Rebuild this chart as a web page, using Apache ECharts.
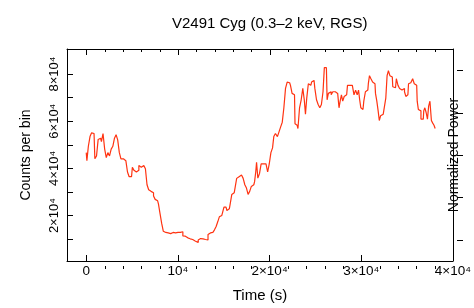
<!DOCTYPE html>
<html>
<head>
<meta charset="utf-8">
<script src="https://cdn.jsdelivr.net/npm/echarts@6.0.0/dist/echarts.min.js"></script>
<style>
  html, body { margin: 0; padding: 0; background: #fff; }
  #chart { width: 474px; height: 308px; }
</style>
</head>
<body>
<div id="chart"></div>
<script>
// light curve, time in s, counts per bin
const timeSec = [
  0, 140, 320, 500, 670, 850, 1030, 1210, 1390, 1570, 1740, 1920, 2100, 2270, 2450, 2630, 2810, 2990, 3170, 3340,
  3520, 3700, 3870, 4050, 4230, 4410, 4590, 4770, 4940, 5120, 5300, 5470, 5650, 5830, 6010, 6190, 6370, 6540, 6720, 6900,
  7070, 7250, 7430, 7610, 7790, 7970, 8140, 8320, 8500, 8680, 8850, 9030, 9210, 9390, 9570, 9740, 9920, 10100, 10270, 10450,
  10630, 10810, 10990, 11170, 11340, 11520, 11700, 11880, 12050, 12130, 12300, 12480, 12660, 12830, 13010, 13200, 13370, 13550, 13730, 13900,
  14080, 14260, 14430, 14610, 14790, 14970, 15080, 15250, 15440, 15610, 15790, 15970, 16140, 16320, 16500, 16670, 16850, 17030, 17210, 17390,
  17570, 17740, 17920, 18100, 18280, 18450, 18530, 18630, 18810, 18990, 19170, 19340, 19520, 19700, 19880, 20050, 20240, 20410, 20510, 20770,
  20940, 21120, 21300, 21470, 21650, 21830, 22010, 22190, 22370, 22540, 22720, 22830, 23010, 23180, 23360, 23540, 23710, 23860, 23970, 24140,
  24320, 24500, 24670, 24850, 25030, 25210, 25390, 25570, 25740, 25920, 26030, 26200, 26350, 26480, 26630, 26810, 26990, 27170, 27340, 27520,
  27630, 27770, 27910, 28050, 28230, 28410, 28590, 28770, 28940, 29120, 29300, 29470, 29650, 29760, 29900, 30010, 30190, 30370, 30540, 30720,
  30830, 30970, 31150, 31330, 31500, 31610, 31790, 31900, 32040, 32180, 32400, 32610, 32750, 32890, 33040, 33210, 33390, 33490, 33740, 33920,
  34100, 34270, 34450, 34630, 34810, 34920, 35090, 35230, 35410, 35520, 35700, 35870, 36050, 36160, 36300, 36440, 36590, 36770, 36870, 37010,
  37150, 37300, 37410, 37580, 37730, 37870, 38010, 38120
]
const counts = [
  46700, 43300, 49400, 53500, 55100, 54800, 44100, 45300, 52300, 52800, 51400, 54800, 48200, 44600, 46700, 45300, 48200, 49400, 52800, 54300,
  52100, 46700, 44100, 44100, 43300, 43300, 38500, 36500, 36500, 40500, 39200, 38500, 39200, 41200, 40500, 41200, 40500, 39900, 33100, 31000,
  30300, 29700, 28300, 26900, 26300, 24900, 20800, 16700, 13400, 12900, 12700, 12200, 12400, 12900, 12900, 12700, 12900, 12800, 12900, 13200,
  11400, 11300, 10600, 10200, 10200, 9900, 9700, 9300, 9000, 8600, 9700, 10300, 10200, 10200, 9900, 9700, 12000, 12700, 12900, 13500,
  14000, 15400, 17400, 19500, 20100, 20100, 23600, 23600, 22200, 22900, 24900, 29000, 29700, 31700, 35800, 36500, 37200, 36500, 35800, 33100,
  31700, 29000, 30300, 32400, 33100, 34400, 38500, 42600, 35900, 37800, 41900, 41900, 41900, 41200, 38500, 41900, 46700, 48700, 53500, 54800,
  53500, 55500, 57600, 59600, 65700, 73900, 76600, 76300, 75200, 71800, 71200, 58900, 58300, 56900, 65700, 69100, 73900, 69100, 63000, 69800,
  75900, 75200, 76600, 77300, 73900, 69100, 67100, 65700, 67100, 72500, 82700, 82700, 69100, 71800, 72500, 71200, 72500, 72500, 71800, 71200,
  65700, 68500, 71200, 68500, 70500, 71200, 75200, 75200, 75200, 75200, 71200, 73200, 71200, 73200, 69100, 65700, 65000, 68500, 72500, 73200,
  75900, 79300, 78000, 76600, 75900, 71800, 68500, 64400, 60300, 62300, 63000, 63700, 69800, 79300, 81400, 79300, 78700, 74600, 74200, 78000,
  75200, 73900, 73200, 73900, 72500, 70500, 71200, 75900, 76300, 76600, 78000, 75900, 75200, 68500, 65000, 64400, 60900, 60900, 64400, 65700,
  63700, 60900, 66400, 68500, 60300, 59200, 58300, 56900
]

const xMajor = [0, 10000, 20000, 30000, 40000]
const xMinor = [2000, 4000, 6000, 8000, 12000, 14000, 16000, 18000, 22000, 24000, 26000, 28000, 32000, 34000, 36000, 38000]
const yLabelTicks = [20000, 40000, 60000, 80000]
const yAllTicks = [10000, 20000, 30000, 40000, 50000, 60000, 70000, 80000]
const powerTicks = [0, 0.25, 0.5, 0.75, 1]

const fontFam = '"Liberation Sans", Arial, Helvetica, sans-serif'

const sciLabel = (v) => {
  if (v === 0) return '0'
  const k = Math.round(v / 10000)
  return k === 1 ? '10\u2074' : k + '\u00d710\u2074'
}

const chart = echarts.init(document.getElementById('chart'), null, { renderer: 'canvas' })

const gridBox = { left: 67, right: 11, top: 49, bottom: 39 }
const xRange = [-2100, 40000]
const yRange = [800, 90600]
const powerRange = [-0.125, 1.125]

const option = {
  animation: false,
  backgroundColor: '#fff',
  title: {
    text: 'V2491 Cyg (0.3\u20132 keV, RGS)',
    left: 167,
    top: 11,
    textStyle: { fontFamily: fontFam, fontSize: 15, fontWeight: 'normal', color: '#000' }
  },
  grid: gridBox,
  xAxis: [
    {
      type: 'value',
      position: 'bottom',
      min: xRange[0],
      max: xRange[1],
      name: 'Time (s)',
      nameLocation: 'middle',
      nameGap: 27,
      nameTextStyle: { fontFamily: fontFam, fontSize: 15, color: '#000' },
      splitLine: { show: false },
      axisLine: { show: true, onZero: false, lineStyle: { color: '#000', width: 1 } },
      axisTick: { show: true, inside: true, length: 6, customValues: xMajor, lineStyle: { color: '#000' } },
      axisLabel: { show: true, customValues: xMajor, formatter: sciLabel, margin: 3, fontFamily: fontFam, fontSize: 13.5, color: '#000', showMaxLabel: true },
    },
    {
      // top frame line
      type: 'value',
      position: 'top',
      min: xRange[0],
      max: xRange[1],
      splitLine: { show: false },
      axisLine: { show: true, onZero: false, lineStyle: { color: '#000', width: 1 } },
      axisTick: { show: false },
      axisLabel: { show: false },
    },
  ],
  yAxis: [
    {
      type: 'value',
      position: 'left',
      min: yRange[0],
      max: yRange[1],
      name: 'Counts per bin',
      nameLocation: 'middle',
      nameRotate: 90,
      nameGap: 34,
      nameTextStyle: { fontFamily: fontFam, fontSize: 14, color: '#000' },
      splitLine: { show: false },
      axisLine: { show: true, onZero: false, lineStyle: { color: '#000', width: 1 } },
      axisTick: { show: true, inside: true, length: 6, customValues: yAllTicks, lineStyle: { color: '#000' } },
      axisLabel: { show: true, customValues: yLabelTicks, formatter: sciLabel, rotate: 90, margin: 6, fontFamily: fontFam, fontSize: 13, color: '#000' },
    },
    {
      type: 'value',
      position: 'right',
      min: powerRange[0],
      max: powerRange[1],
      name: 'Normalized Power',
      nameLocation: 'middle',
      nameRotate: 90,
      nameGap: -6,
      nameTextStyle: { fontFamily: fontFam, fontSize: 14, color: '#000' },
      splitLine: { show: false },
      axisLine: { show: true, onZero: false, lineStyle: { color: '#000', width: 1 } },
      axisTick: { show: false },
      axisLabel: { show: false },
    },
  ],
  series: [
    {
      name: 'RGS',
      type: 'line',
      xAxisIndex: 0,
      yAxisIndex: 0,
      step: 'middle',
      showSymbol: false,
      data: timeSec.map((t, i) => [t, counts[i]]),
      lineStyle: { color: '#ff3311', width: 1.2 },
      itemStyle: { color: '#ff3311' },
    }
  ]
}

chart.setOption(option)

// extra inward ticks (minor bottom, top, right); fall back to the grid box if conversion fails
const W = 474, H = 308
const gx0 = gridBox.left, gx1 = W - gridBox.right, gy0 = gridBox.top, gy1 = H - gridBox.bottom
const conv = (finder, v, lo, hi, p0, p1) => {
  const p = chart.convertToPixel(finder, v)
  const n = Array.isArray(p) ? p[0] : p
  return Number.isFinite(n) ? n : p0 + (v - lo) / (hi - lo) * (p1 - p0)
}
const px = (v) => Math.round(conv({ xAxisIndex: 0 }, v, xRange[0], xRange[1], gx0, gx1)) + 0.5
const pyR = (v) => Math.round(conv({ yAxisIndex: 1 }, v, powerRange[0], powerRange[1], gy1, gy0)) + 0.5

const tick = (x1, y1, x2, y2) => ({
  type: 'line', silent: true, z: 100,
  shape: { x1, y1, x2, y2 },
  style: { stroke: '#000', lineWidth: 1 }
})

const extraTicks = []
xMinor.forEach(v => {
  extraTicks.push(tick(px(v), gy1, px(v), gy1 - 3))
  extraTicks.push(tick(px(v), gy0, px(v), gy0 + 3))
})
xMajor.forEach(v => extraTicks.push(tick(px(v), gy0, px(v), gy0 + 6)))
powerTicks.forEach(v => extraTicks.push(tick(gx1, pyR(v), gx1 - 6, pyR(v))))

chart.setOption({ graphic: { elements: extraTicks } })
</script>
</body>
</html>
